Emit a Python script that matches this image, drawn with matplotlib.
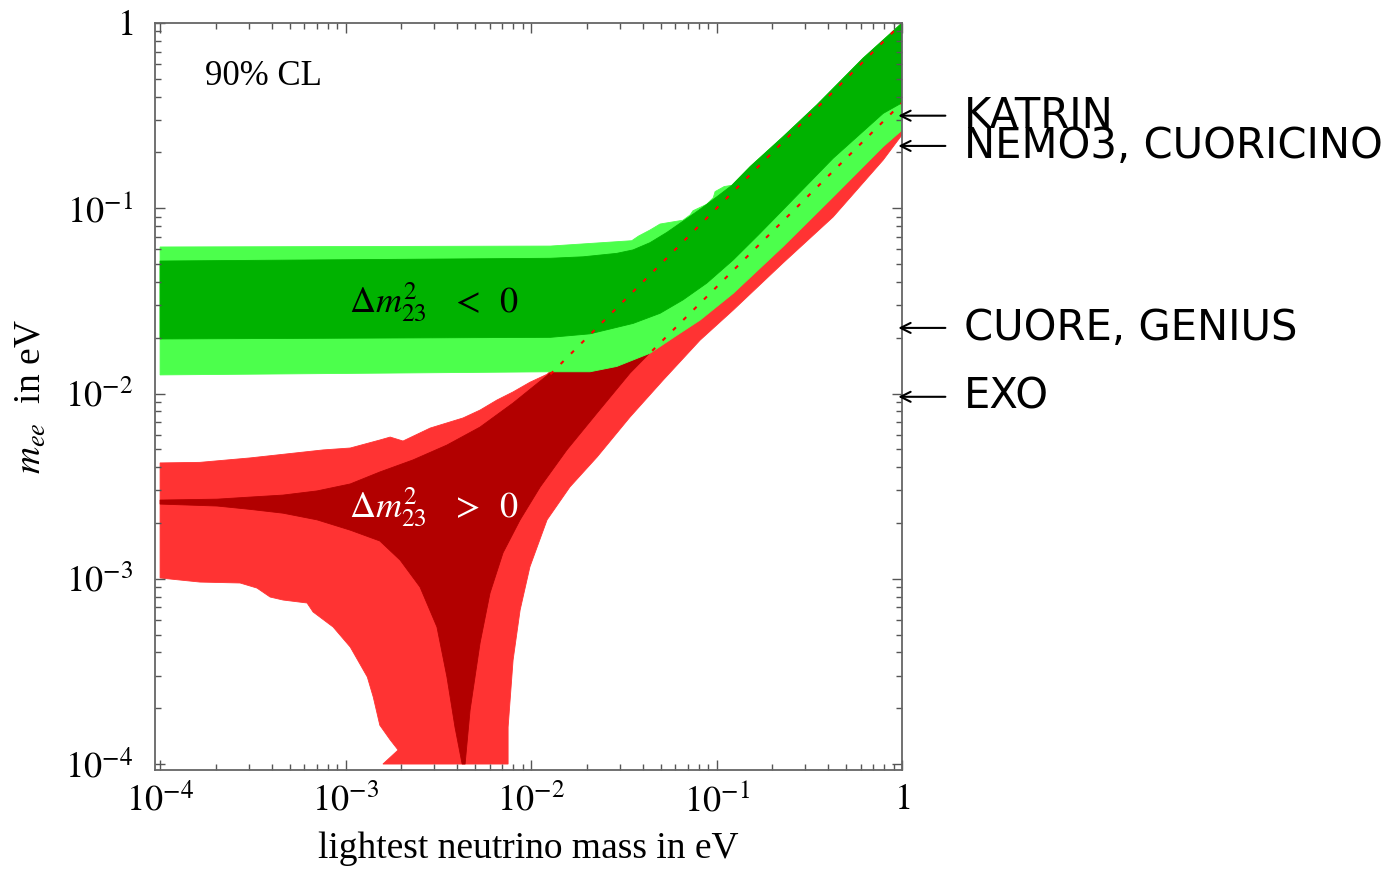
import numpy as np
import matplotlib.pyplot as plt

plt.rcParams['font.family'] = 'serif'
plt.rcParams['font.serif'] = ['Liberation Serif', 'DejaVu Serif']
plt.rcParams['mathtext.fontset'] = 'stix'

# inverted hierarchy (green): outer = light band, inner = dark band
ih_outer_top_x = [1e-4, 1.27e-2, 3.49e-2, 3.8e-2, 4.38e-2, 4.96e-2, 6.59e-2, 7.2e-2, 7.47e-2, 8.85e-2,
                  9.6e-2, 9.82e-2, 0.11, 0.121, 0.152, 0.228, 0.347, 0.616, 1.0]
ih_outer_top_y = [0.0618, 0.0625, 0.0668, 0.0708, 0.0763, 0.0822, 0.0862, 0.092, 0.097, 0.105,
                  0.114, 0.123, 0.131, 0.133, 0.168, 0.243, 0.361, 0.645, 1.0]
ih_outer_bot_x = [1e-4, 1.27e-2, 2.08e-2, 2.90e-2, 4.38e-2, 5.97e-2, 8.15e-2, 0.123, 0.228, 0.425, 0.791, 1.0]
ih_outer_bot_y = [0.0126, 0.0131, 0.0131, 0.0140, 0.0165, 0.0203, 0.0249, 0.0347, 0.0620, 0.115, 0.215, 0.264]

ih_inner_top_x = [1e-4, 1.27e-2, 1.91e-2, 2.90e-2, 3.55e-2, 4.38e-2, 5.40e-2, 6.59e-2, 8.15e-2, 0.1,
                  0.121, 0.152, 0.228, 0.347, 0.616, 1.0]
ih_inner_top_y = [0.0519, 0.0537, 0.0547, 0.0571, 0.0596, 0.0652, 0.0741, 0.0851, 0.0987, 0.115,
                  0.133, 0.168, 0.243, 0.361, 0.645, 1.0]
ih_inner_bot_x = [1e-4, 1.27e-2, 2.08e-2, 3.55e-2, 4.96e-2, 6.59e-2, 8.85e-2, 0.123, 0.168, 0.228,
                  0.425, 0.791, 1.0]
ih_inner_bot_y = [0.0197, 0.0201, 0.0210, 0.0239, 0.0271, 0.0320, 0.0394, 0.0526, 0.0717, 0.098,
                  0.186, 0.325, 0.371]

# normal hierarchy (red)
nh_outer_top_x = [1e-4, 1.64e-4, 3.05e-4, 7.56e-4, 1.06e-3, 1.53e-3, 1.74e-3, 2.04e-3, 2.86e-3, 4.30e-3,
                  5.31e-3, 6.56e-3, 8.0e-3, 9.86e-3, 1.22e-2, 0.1, 1.0]
nh_outer_top_y = [4.22e-3, 4.25e-3, 4.49e-3, 4.96e-3, 5.08e-3, 5.61e-3, 5.82e-3, 5.54e-3, 6.51e-3, 7.38e-3,
                  8.14e-3, 9.23e-3, 1.02e-2, 1.15e-2, 1.27e-2, 0.1, 0.97]
nh_outer_bot_x = [1e-4, 1.64e-4, 2.70e-4, 3.33e-4, 3.92e-4, 4.60e-4, 6.20e-4, 6.68e-4, 8.57e-4, 1.06e-3,
                  1.31e-3, 1.41e-3, 1.53e-3, 1.74e-3, 1.92e-3, 1.59e-3, 7.52e-3, 7.52e-3, 8.0e-3, 8.73e-3,
                  9.86e-3, 1.22e-2, 1.62e-2, 2.27e-2, 3.42e-2, 5.15e-2, 8.15e-2, 0.123, 0.228, 0.425,
                  0.791, 1.0]
nh_outer_bot_y = [1.01e-3, 9.60e-4, 9.49e-4, 8.91e-4, 7.97e-4, 7.68e-4, 7.40e-4, 6.62e-4, 5.49e-4, 4.28e-4,
                  2.95e-4, 2.30e-4, 1.62e-4, 1.35e-4, 1.19e-4, 1e-4, 1e-4, 1.58e-4, 3.64e-4, 6.78e-4,
                  1.16e-3, 2.08e-3, 3.13e-3, 4.54e-3, 7.47e-3, 1.18e-2, 1.94e-2, 2.82e-2, 5.06e-2, 8.97e-2,
                  0.182, 0.249]

nh_inner_top_x = [1e-4, 2.03e-4, 3.05e-4, 4.60e-4, 7.02e-4, 1.06e-3, 1.53e-3, 2.31e-3, 3.52e-3, 5.31e-3,
                  8.0e-3, 1.22e-2, 1.0]
nh_inner_top_y = [2.66e-3, 2.69e-3, 2.76e-3, 2.83e-3, 2.98e-3, 3.25e-3, 3.77e-3, 4.38e-3, 5.27e-3, 6.59e-3,
                  8.89e-3, 1.25e-2, 1.0]
nh_inner_bot_x = [1e-4, 2.03e-4, 3.05e-4, 4.60e-4, 7.02e-4, 1.06e-3, 1.53e-3, 1.97e-3, 2.52e-3, 3.11e-3,
                  3.52e-3, 3.89e-3, 4.25e-3, 4.41e-3, 4.69e-3, 5.31e-3, 6.01e-3, 7.06e-3, 8.73e-3, 1.12e-2,
                  1.56e-2, 2.27e-2, 3.42e-2, 4.38e-2, 1.0]
nh_inner_bot_y = [2.53e-3, 2.47e-3, 2.37e-3, 2.26e-3, 2.08e-3, 1.83e-3, 1.60e-3, 1.26e-3, 9.02e-4, 5.49e-4,
                  2.95e-4, 1.58e-4, 1e-4, 1e-4, 1.95e-4, 4.50e-4, 8.38e-4, 1.38e-3, 2.08e-3, 3.13e-3,
                  4.96e-3, 7.85e-3, 1.29e-2, 1.66e-2, 0.371]

# quasi-degenerate edges (red dashed)
qd_hi_x = [1.27e-2, 1.0]
qd_hi_y = [1.27e-2, 1.0]
qd_lo_x = [4.5e-2, 1.0]
qd_lo_y = [1.7e-2, 0.371]

# experimental sensitivities
exp_names = ['KATRIN', 'NEMO3, CUORICINO', 'CUORE, GENIUS', 'EXO']
exp_reach = [0.316, 0.217, 0.0226, 0.0096]

ticks = [1e-4, 1e-3, 1e-2, 1e-1, 1]
tick_labels = [r'$10^{-4}$', r'$10^{-3}$', r'$10^{-2}$', r'$10^{-1}$', r'$1$']


def band(ax, top_x, top_y, bot_x, bot_y, color):
    xs = np.r_[top_x, bot_x[::-1]]
    ys = np.r_[top_y, bot_y[::-1]]
    ax.fill(xs, ys, color=color, lw=0.6, ec=color)


fig = plt.figure(figsize=(13.97, 8.71), dpi=100)
ax = fig.add_axes([0.1110, 0.1160, 0.5347, 0.8576])
ax.set_xscale('log')
ax.set_yscale('log')

band(ax, nh_outer_top_x, nh_outer_top_y, nh_outer_bot_x, nh_outer_bot_y, '#ff3333')
band(ax, nh_inner_top_x, nh_inner_top_y, nh_inner_bot_x, nh_inner_bot_y, '#b20000')
band(ax, ih_outer_top_x, ih_outer_top_y, ih_outer_bot_x, ih_outer_bot_y, '#4cff4c')
band(ax, ih_inner_top_x, ih_inner_top_y, ih_inner_bot_x, ih_inner_bot_y, '#00b200')

ax.plot(qd_hi_x, qd_hi_y, color='red', lw=1.5, linestyle=(0, (2, 5)))
ax.plot(qd_lo_x, qd_lo_y, color='red', lw=1.5, linestyle=(0, (2, 5)))

ax.set_xlim(10 ** -4.027, 1)
ax.set_ylim(10 ** -4.032, 1)
ax.set_xticks(ticks)
ax.set_xticklabels(tick_labels)
ax.set_yticks(ticks)
ax.set_yticklabels(tick_labels)

for s in ax.spines.values():
    s.set_color('#666666')
    s.set_linewidth(1.3)
ax.tick_params(which='both', direction='in', top=True, right=True, color='#555555', width=1.0)
ax.tick_params(which='major', length=7, labelsize=26)
ax.tick_params(which='minor', length=4)
ax.tick_params(axis='x', which='major', pad=10)
ax.tick_params(axis='y', which='major', pad=16)

ax.set_xlabel('lightest neutrino mass in eV', fontsize=27)
ax.xaxis.set_label_coords(0.5, -0.082)
ax.set_ylabel(r'$m_{ee}$  in eV', fontsize=27)
ax.yaxis.set_label_coords(-0.142, 0.5)

ax.text(0.067, 0.929, '90% CL', transform=ax.transAxes, fontsize=25, va='center', ha='left')
ax.text(3.0e-3, 0.0312, r'$\Delta m_{23}^2\;\;\; <\;\; 0$', fontsize=26, ha='center', va='center', color='black')
ax.text(3.0e-3, 2.44e-3, r'$\Delta m_{23}^2\;\;\; >\;\; 0$', fontsize=26, ha='center', va='center', color='white')

for name, val in zip(exp_names, exp_reach):
    ax.annotate('', xy=(0.995, val), xycoords=('axes fraction', 'data'),
                xytext=(1.058, val), textcoords=('axes fraction', 'data'),
                arrowprops=dict(arrowstyle='->', lw=1.5, color='black', mutation_scale=18,
                                shrinkA=0, shrinkB=0),
                annotation_clip=False)
    ax.text(1.083, val, name, transform=ax.get_yaxis_transform(), fontsize=30,
            family='DejaVu Sans', va='center', ha='left', clip_on=False)

fig.savefig('out.png', dpi=100)
